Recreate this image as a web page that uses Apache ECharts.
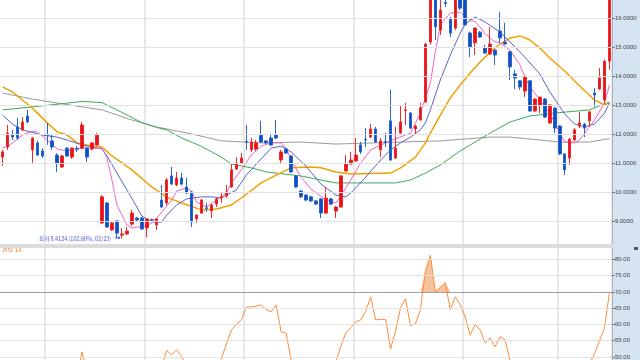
<!DOCTYPE html>
<html>
<head>
<meta charset="utf-8">
<script src="https://cdn.jsdelivr.net/npm/echarts@6/dist/echarts.min.js"></script>
<style>html,body{margin:0;padding:0;background:#fff}#c{width:640px;height:360px}</style>
</head>
<body>
<div id="c"></div>
<script>
// [open, close, low, high]
const candles = [
[11.22,11.40,10.91,11.47],[11.57,12.05,11.47,12.33],[11.98,11.91,11.81,12.16],[12.26,11.88,11.81,12.57],
[12.16,12.43,12.12,12.60],[12.64,12.43,12.40,12.85],[11.47,11.88,11.02,11.91],[11.71,11.29,11.26,11.78],
[11.43,11.26,11.19,11.53],[11.99,11.97,11.64,12.40],[11.78,11.57,11.47,12.02],[11.29,11.02,10.71,11.36],
[10.88,11.26,10.85,11.30],[11.53,11.26,11.22,11.57],[11.22,11.53,11.16,11.55],[11.51,11.49,11.40,11.60],
[11.53,12.33,11.50,12.43],[11.53,11.22,11.05,11.57],[11.50,11.71,11.45,11.74],[11.64,11.98,11.60,12.05],
[8.95,9.85,8.91,9.91],[9.64,8.81,8.78,9.67],[8.71,8.95,8.68,8.98],[9.02,8.60,8.43,9.05],
[8.53,8.57,8.4124,8.78],[8.57,8.67,8.53,8.81],[8.91,9.29,8.85,9.40],[9.12,9.05,9.02,9.16],
[9.12,8.74,8.71,9.16],[8.78,9.09,8.45,9.12],[9.07,9.05,9.00,9.10],[8.88,9.09,8.71,9.10],
[9.74,9.50,9.47,10.26],[9.64,10.43,9.57,10.50],[10.57,10.29,10.26,10.88],[10.26,10.50,10.22,10.71],
[10.50,10.29,10.24,10.67],[10.19,9.98,9.95,10.50],[10.02,8.98,8.81,10.05],[9.09,9.22,8.95,9.26],
[9.29,9.74,9.26,9.78],[9.47,9.45,9.33,9.64],[9.36,9.57,9.12,9.60],[9.60,9.78,9.50,9.81],
[9.81,9.85,9.64,9.98],[9.88,10.02,9.81,10.26],[10.19,10.78,10.16,11.02],[10.81,11.02,10.78,11.22],
[11.02,11.19,10.98,11.36],[11.76,11.74,11.47,12.33],[11.47,11.74,11.40,11.88],[11.50,11.71,11.43,11.81],
[11.98,11.74,11.71,12.47],[11.78,11.71,11.67,11.81],[11.88,11.64,11.60,11.98],[11.98,11.88,11.84,12.50],
[11.12,11.40,11.02,11.47],[11.50,11.36,11.33,11.53],[11.26,10.71,10.67,11.29],[10.57,10.19,10.16,10.60],
[10.05,9.85,9.81,10.09],[9.91,9.74,9.70,9.95],[9.85,9.71,9.67,9.88],[9.71,9.60,9.57,9.74],
[9.78,9.29,9.12,9.81],[9.29,9.81,9.26,10.19],[9.78,9.60,9.57,9.81],[9.36,9.50,9.12,9.53],
[9.50,10.57,9.47,10.60],[10.74,10.98,10.71,11.29],[10.98,11.12,10.95,11.40],[11.09,11.29,11.05,11.88],
[11.64,11.40,11.33,11.74],[11.83,11.81,11.57,12.22],[11.91,12.19,11.88,12.36],[12.19,11.74,11.71,12.26],
[11.47,11.78,11.22,11.88],[11.76,11.74,11.57,12.05],[12.47,11.12,11.09,13.54],[11.19,11.53,11.16,12.26],
[12.05,12.43,12.02,13.02],[12.83,12.85,12.33,13.09],[12.74,12.22,12.19,12.78],[12.19,12.29,11.98,12.33],
[12.50,12.92,12.47,13.09],[13.12,15.12,13.09,15.16],[15.19,16.90,15.10,17.10],[16.80,15.71,15.26,17.00],
[15.60,16.29,15.43,16.70],[16.55,16.52,16.40,16.70],[15.98,15.50,15.36,16.05],[15.67,16.90,15.60,17.00],
[16.90,16.36,16.29,17.00],[16.70,15.78,15.74,16.80],[15.50,15.02,14.67,15.55],[15.16,15.67,14.74,15.70],
[15.53,15.36,15.33,15.57],[14.98,14.81,14.78,15.09],[14.78,15.12,14.74,15.71],[14.91,14.74,14.40,14.95],
[15.57,15.33,15.16,16.22],[15.19,15.12,15.09,15.85],[14.85,14.33,13.88,14.88],[14.09,13.95,13.57,14.23],
[13.85,13.64,13.54,13.88],[13.50,13.98,13.29,14.05],[13.85,12.81,12.78,13.88],[12.81,13.22,12.78,13.26],
[13.02,13.29,12.74,13.31],[13.22,12.60,12.57,13.26],[12.40,13.02,12.36,13.05],[12.91,12.22,12.05,12.95],
[12.29,11.33,11.29,12.33],[11.33,10.78,10.60,11.36],[11.19,11.84,10.95,11.88],[11.81,12.16,11.78,12.22],
[12.29,12.40,12.22,12.78],[12.36,12.22,11.91,12.40],[12.47,12.78,12.26,12.81],[13.43,13.36,12.95,13.60],
[13.57,13.95,13.53,14.29],[13.19,14.53,13.09,14.57],[14.53,16.90,14.23,17.00]
];
// moving averages: [candle index, price]
const ma5 = [[0,11.55],[1,11.57],[2,11.71],[4,11.98],[6,12.12],[7,12.09],[9,11.81],[11,11.50],[13,11.43],[15,11.53],[18,11.53],[20,11.53],[21,11.19],[22,10.43],[23,9.57],[25,8.88],[26,8.78],[29,8.85],[30,8.95],[31,9.12],[33,9.53],[34,9.74],[35,10.05],[37,10.16],[38,10.05],[39,9.67],[41,9.50],[43,9.74],[45,9.98],[46,10.33],[48,10.78],[50,11.29],[52,11.60],[54,11.71],[56,11.71],[57,11.53],[58,11.12],[60,10.53],[62,10.12],[65,9.74],[67,9.64],[68,9.88],[70,10.43],[72,11.02],[74,11.47],[77,11.71],[79,11.85],[81,11.98],[82,12.05],[84,12.74],[86,13.78],[87,14.85],[88,15.78],[90,16.19],[92,16.22],[93,16.05],[95,15.88],[96,15.71],[97,15.47],[99,15.19],[100,15.16],[102,14.91],[104,14.40],[105,13.98],[106,13.64],[108,13.19],[110,12.74],[112,12.05],[113,11.74],[115,11.71],[116,11.81],[117,12.05],[119,12.50],[121,13.09],[122,13.71]];
const ma10 = [[0,12.67],[2,12.36],[4,12.16],[8,11.98],[11,11.91],[13,11.81],[16,11.64],[18,11.57],[20,11.50],[21,11.26],[23,10.67],[25,10.09],[27,9.50],[28,9.19],[30,8.98],[32,8.98],[33,9.22],[35,9.57],[37,9.78],[40,9.85],[42,9.85],[44,9.81],[45,9.91],[47,10.09],[49,10.60],[52,11.16],[54,11.53],[56,11.60],[58,11.40],[61,10.91],[64,10.29],[67,9.91],[69,9.85],[70,9.98],[73,10.53],[76,11.12],[78,11.47],[80,11.71],[82,11.91],[84,12.16],[85,12.40],[86,12.85],[88,13.88],[90,14.74],[92,15.50],[93,15.81],[95,16.05],[97,15.88],[100,15.53],[104,14.85],[108,14.09],[110,13.47],[113,12.71],[115,12.36],[117,12.26],[119,12.36],[121,12.74],[122,13.09]];
const ma20 = [[0,13.64],[2,13.47],[4,13.19],[6,12.91],[9,12.40],[11,12.09],[13,11.98],[15,11.71],[17,11.64],[20,11.57],[22,11.26],[26,10.78],[30,10.19],[33,9.84],[36,9.64],[40,9.40],[43,9.43],[46,9.57],[48,9.81],[52,10.33],[55,10.60],[58,10.85],[62,10.88],[64,10.85],[67,10.71],[70,10.64],[78,10.67],[80,10.85],[83,11.22],[85,11.71],[86,12.05],[88,12.67],[90,13.26],[92,13.71],[94,14.12],[96,14.50],[98,14.84],[100,15.12],[102,15.33],[104,15.40],[106,15.26],[108,14.98],[110,14.64],[113,14.19],[116,13.67],[119,13.19],[121,13.02],[122,13.09]];
const ma60 = [[0,12.85],[6,12.95],[16,13.14],[20,13.10],[23,12.85],[28,12.41],[31,12.24],[33,12.16],[36,11.88],[40,11.59],[44,11.22],[46,10.98],[50,10.85],[53,10.71],[60,10.57],[64,10.43],[67,10.33],[79,10.33],[82,10.43],[85,10.67],[88,10.95],[92,11.43],[98,12.05],[102,12.43],[106,12.64],[111,12.74],[118,12.85],[122,13.12]];
const ma120 = [[0,13.43],[6,13.22],[16,12.95],[20,12.85],[26,12.50],[31,12.26],[38,12.02],[44,11.78],[52,11.71],[60,11.74],[67,11.67],[80,11.74],[88,11.78],[98,11.91],[102,11.91],[108,11.81],[112,11.74],[118,11.74],[122,11.86]];
const rsi = [44,46,45,44,46,45,42,40,39,43,41,38,40,41,43,44,51.6,45,46,47,
30,27,29,27,27,28,33,33,31,34,34,35,47,52,50.7,52.2,50.2,47,36,38,
43,42,44,46,49.5,54,58.3,60,61.4,65.4,65.4,65.6,66,64.5,63.9,66,57.7,57.4,49,43,
40,39,38,37,35,41,39,48.5,53.2,57.4,59,60.8,61.4,64,68.5,61.4,61.6,61.5,52.5,58,
65.1,67.9,59.6,60.2,64.5,76.4,81.3,70,71.5,72.8,64.5,68.5,66,62.3,56.8,59.9,58.3,54.4,55.9,53.1,
56.2,55.3,49,45,43,46,40,43,44,40,44,39,33,29,37,41,42,40,48,51,55,59,70];
const priceTicks = [9,10,11,12,13,14,15,16];
const rsiTicks = [50,55,60,65,70,75,80];
const monthStarts = [9,29,49,71,93,112];
const lowLabel = '최저 8.4124 (102.60%, 02/23)';
const lowIndex = 24, lowValue = 8.4124;

const categories = candles.map((_, i) => String(i));
const chart = echarts.init(document.getElementById('c'), null, {renderer: 'canvas'});
const vGrid = {show: true, interval: (idx) => monthStarts.includes(idx), lineStyle: {color: '#e0e0e0', width: 1.5}};
const hGrid = (vals, special) => ({
  silent: true, symbol: ['none', 'none'], label: {show: false}, animation: false,
  data: vals.map(v => ({yAxis: v, lineStyle: {color: v === special ? '#a0a0a0' : '#e2e2e2', width: 1, type: 'solid'}}))
});
const lineS = (name, data, color, width) => ({
  name, type: 'line', data, xAxisIndex: 0, yAxisIndex: 0, symbol: 'none', showSymbol: false,
  lineStyle: {color, width}, z: 3, silent: true, animation: false
});
const yAx = (gridIndex, min, max, ticks, digits) => ({
  type: 'value', gridIndex, position: 'right', min, max,
  axisLine: {show: true, lineStyle: {color: '#a8b4c0'}},
  axisTick: {show: true, length: 3, customValues: ticks, lineStyle: {color: '#777'}},
  axisLabel: {customValues: ticks, formatter: v => v.toFixed(digits), fontSize: 6, color: '#444', margin: 3, fontFamily: 'Liberation Sans'},
  splitLine: {show: false}
});
chart.setOption({
  animation: false,
  backgroundColor: '#ffffff',
  grid: [
    {left: 0, right: 28, top: 0, height: 244},
    {left: 0, right: 28, top: 248, height: 112}
  ],
  xAxis: [
    {type: 'category', gridIndex: 0, data: categories, boundaryGap: true, axisLine: {show: false}, axisTick: {show: false}, axisLabel: {show: false}, splitLine: vGrid},
    {type: 'category', gridIndex: 1, data: categories, boundaryGap: true, axisLine: {show: false}, axisTick: {show: false}, axisLabel: {show: false}, splitLine: vGrid}
  ],
  yAxis: [
    yAx(0, 8.224, 16.638, priceTicks, 4),
    yAx(1, 49.14, 83.5, rsiTicks, 2)
  ],
  graphic: [
    {type: 'rect', z: -10, silent: true, shape: {x: 612, y: 0, width: 28, height: 360}, style: {fill: '#d6e3f1'}},
    {type: 'rect', z: 100, silent: true, shape: {x: 0, y: 244, width: 612, height: 4}, style: {fill: '#dcdcdc'}},
    {type: 'rect', z: 100, silent: true, shape: {x: 634, y: 247, width: 4, height: 3}, style: {fill: '#555'}},
    {type: 'text', z: 100, silent: true, left: 3, top: 247, style: {text: 'RSI 14', fontSize: 6, fill: '#f08030', fontFamily: 'Liberation Sans'}}
  ],
  series: [
    Object.assign(lineS('MA120', ma120, '#9a9a9a', 1), {z: 2, markLine: hGrid(priceTicks, null)}),
    lineS('MA60', ma60, '#3cab55', 1),
    lineS('MA20', ma20, '#f2a100', 1.5),
    lineS('MA10', ma10, '#5865c8', 1),
    lineS('MA5', ma5, '#f064c8', 1),
    {
      name: 'price', type: 'candlestick', data: candles, xAxisIndex: 0, yAxisIndex: 0,
      barWidth: 3, z: 4, silent: true, animation: false,
      itemStyle: {color: '#e8101a', color0: '#0d4fc4', borderColor: '#ee2a2a', borderColor0: '#2a64cc', borderWidth: 1},
      markPoint: {
        symbol: 'circle', symbolSize: 1, itemStyle: {color: 'rgba(0,0,0,0)'}, silent: true, animation: false,
        data: [{coord: [String(lowIndex), lowValue],
          label: {show: true, position: 'left', distance: 1,
            formatter: '{t|' + lowLabel + '} {a|→}',
            rich: {t: {fontSize: 5.5, color: '#4a58e0', fontFamily: 'Noto Sans CJK KR'},
                   a: {fontSize: 7, color: '#1436c8', fontWeight: 'bold', fontFamily: 'DejaVu Sans'}}}}]
      }
    },
    {
      name: 'rsiGrid', type: 'line', xAxisIndex: 1, yAxisIndex: 1, data: [], z: 1, silent: true,
      markLine: hGrid(rsiTicks.filter(v => v !== 70), null)
    },
    {
      name: 'rsiFill', type: 'line', xAxisIndex: 1, yAxisIndex: 1, data: rsi.map(v => Math.max(v, 70)),
      symbol: 'none', lineStyle: {width: 0, opacity: 0}, areaStyle: {origin: 70, color: '#f6c29c', opacity: 1}, z: 2, silent: true
    },
    {
      name: 'RSI', type: 'line', xAxisIndex: 1, yAxisIndex: 1, data: rsi, symbol: 'none',
      lineStyle: {color: '#ff8a3a', width: 1}, z: 3, silent: true,
      markLine: hGrid([70], 70)
    }
  ]
});
</script>
</body>
</html>
